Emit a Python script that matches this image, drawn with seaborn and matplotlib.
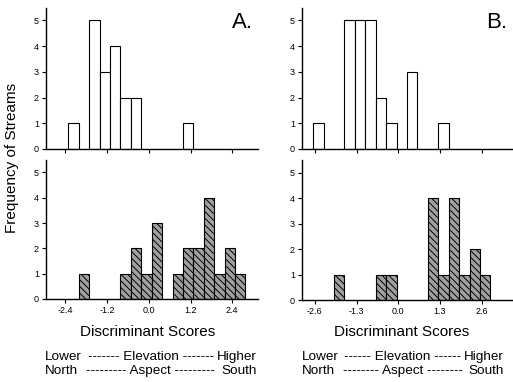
import numpy as np
import pandas as pd
import matplotlib
matplotlib.use("Agg")
import matplotlib.pyplot as plt
import seaborn as sns

# panel A: bin width 0.3, panel B: bin width 0.325 (left bin edges + counts)
a_width = 0.3
a_top_left = [-2.32, -1.72, -1.42, -1.12, -0.82, -0.52, 0.98]
a_top_count = [1, 5, 3, 4, 2, 2, 1]
a_bot_left = [-2.02, -0.82, -0.52, -0.22, 0.08, 0.68, 0.98, 1.28, 1.58, 1.88, 2.18, 2.48]
a_bot_count = [1, 1, 2, 1, 3, 1, 2, 2, 4, 1, 2, 1]
a_ticks = [-2.4, -1.2, 0.0, 1.2, 2.4]
a_xlim = (-2.96, 3.14)

b_width = 0.325
b_top_left = [-2.65, -1.675, -1.35, -1.025, -0.70, -0.375, 0.275, 1.25]
b_top_count = [1, 5, 5, 5, 2, 1, 3, 1]
b_bot_left = [-2.0, -0.70, -0.375, 0.925, 1.25, 1.575, 1.90, 2.225, 2.55]
b_bot_count = [1, 1, 1, 4, 1, 4, 1, 2, 1]
b_ticks = [-2.6, -1.3, 0.0, 1.3, 2.6]
b_xlim = (-3.0, 3.55)

y_ticks = [0, 1, 2, 3, 4, 5]

sns.set_style("ticks")
plt.rcParams["font.family"] = ["Liberation Sans", "DejaVu Sans"]
plt.rcParams["hatch.color"] = "#2a2a2a"
plt.rcParams["hatch.linewidth"] = 0.7
for key in ["text.color", "axes.labelcolor", "xtick.color", "ytick.color", "axes.edgecolor"]:
    plt.rcParams[key] = "black"

W, H = 513, 382
fig = plt.figure(figsize=(W / 100, H / 100), dpi=100)


def px_axes(x0, x1, y_top, y_bot):
    return fig.add_axes([x0 / W, 1 - y_bot / H, (x1 - x0) / W, (y_bot - y_top) / H])


def draw_hist(ax, lefts, counts, width, shaded, ticks, xlim, labels):
    lefts = np.asarray(lefts, dtype=float)
    df = pd.DataFrame({"score": lefts + width / 2, "n": counts})
    lo, hi = lefts.min(), lefts.max() + width
    style = dict(color="#a0a0a0", hatch="\\\\\\\\\\") if shaded else dict(color="white")
    sns.histplot(data=df, x="score", weights="n", binwidth=width, binrange=(lo, hi),
                 ax=ax, stat="count", alpha=1, edgecolor="black", linewidth=0.8,
                 **style)
    for p in ax.patches:
        if p.get_height() == 0:
            p.set_visible(False)
    ax.set_xlim(*xlim)
    ax.set_ylim(0, 5.5)
    ax.set_xticks(ticks)
    ax.set_yticks(y_ticks)
    if labels:
        ax.set_xticklabels([f"{t:.1f}" for t in ticks])
    else:
        ax.set_xticklabels([])
    ax.set_xlabel("")
    ax.set_ylabel("")
    ax.tick_params(axis="both", labelsize=6.5, length=3, width=0.8, pad=2)
    for s in ["top", "right"]:
        ax.spines[s].set_visible(False)
    for s in ["left", "bottom"]:
        ax.spines[s].set_linewidth(1.0)
    ax.patch.set_alpha(0)


ax1 = px_axes(46, 258, 7.6, 149)
draw_hist(ax1, a_top_left, a_top_count, a_width, False, a_ticks, a_xlim, False)
ax2 = px_axes(46, 258, 159.8, 299)
draw_hist(ax2, a_bot_left, a_bot_count, a_width, True, a_ticks, a_xlim, True)
ax3 = px_axes(302, 512, 7.6, 149)
draw_hist(ax3, b_top_left, b_top_count, b_width, False, b_ticks, b_xlim, False)
ax4 = px_axes(302, 512, 159.8, 300)
draw_hist(ax4, b_bot_left, b_bot_count, b_width, True, b_ticks, b_xlim, True)

fig.text(242 / W, 1 - 22 / H, "A.", fontsize=16, ha="center", va="center")
fig.text(497 / W, 1 - 22 / H, "B.", fontsize=16, ha="center", va="center")
fig.text(12 / W, 1 - 158 / H, "Frequency of Streams", rotation=90,
         fontsize=11, ha="center", va="center")

fs = 9.7
for cx, lx0, lx1, elev, asp in [(148, 45, 257, "------- Elevation -------", "--------- Aspect ---------"),
                                (402, 302, 504, "------ Elevation ------", "-------- Aspect --------")]:
    fig.text(cx / W, 1 - 332 / H, "Discriminant Scores", fontsize=11,
             ha="center", va="center")
    fig.text(lx0 / W, 1 - 357 / H, "Lower", fontsize=fs, ha="left", va="center")
    fig.text((lx0 + lx1) / 2 / W, 1 - 357 / H, elev, fontsize=fs, ha="center", va="center")
    fig.text(lx1 / W, 1 - 357 / H, "Higher", fontsize=fs, ha="right", va="center")
    fig.text(lx0 / W, 1 - 371 / H, "North", fontsize=fs, ha="left", va="center")
    fig.text((lx0 + lx1) / 2 / W, 1 - 371 / H, asp, fontsize=fs, ha="center", va="center")
    fig.text(lx1 / W, 1 - 371 / H, "South", fontsize=fs, ha="right", va="center")

fig.savefig("out.png", dpi=100)
